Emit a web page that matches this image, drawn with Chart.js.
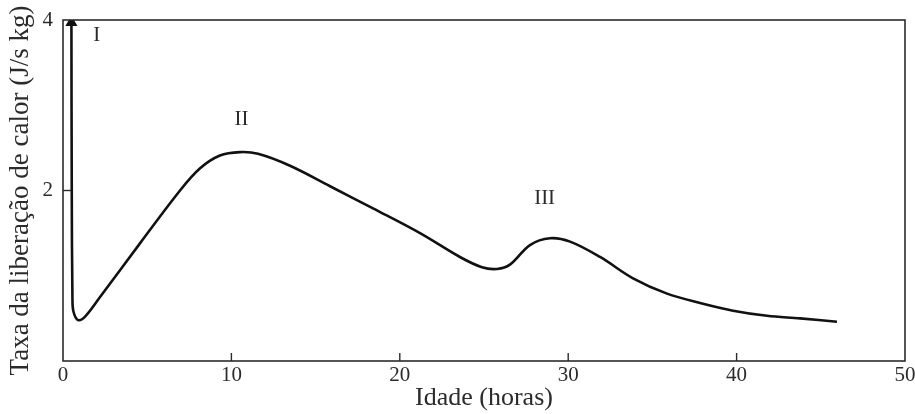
<!DOCTYPE html>
<html>
<head>
<meta charset="utf-8">
<script src="https://cdn.jsdelivr.net/npm/chart.js@4"></script>
<style>
  html, body { margin: 0; padding: 0; background: #fff; }
  #wrap { width: 915px; height: 414px; }
</style>
</head>
<body>
<div id="wrap"><canvas id="heatChart" width="915" height="414"></canvas></div>
<script>
// idade (horas) e taxa de liberação de calor (J/s kg)
const hours = [0.50, 0.52, 0.56, 0.62, 0.89, 1.31, 2.20, 4.57, 6.95, 8.14, 9.32, 10.51, 11.58, 13.48, 15.86, 18.41, 21.20, 23.57, 24.88, 25.77, 26.54, 27.73, 28.92, 30.11, 31.89, 33.85, 35.87, 37.83, 39.79, 41.81, 43.77, 45.96];
const heatRate = [3.97, 2.00, 0.75, 0.58, 0.48, 0.52, 0.75, 1.38, 2.00, 2.26, 2.41, 2.45, 2.43, 2.29, 2.05, 1.79, 1.50, 1.22, 1.10, 1.08, 1.13, 1.36, 1.44, 1.40, 1.22, 0.97, 0.79, 0.68, 0.59, 0.53, 0.50, 0.46];

const xTicks = [0, 10, 20, 30, 40, 50];
const yTicks = [2, 4];

// rótulos dos picos: texto, idade, taxa
const peakNames = ['I', 'II', 'III'];
const peakHours = [2.0, 10.6, 28.6];
const peakRates = [3.82, 2.83, 1.91];

const serif = "'Liberation Serif', 'DejaVu Serif', serif";
const ink = '#2b2b2b';

// moldura, marcas internas e rótulos I, II, III
const framePlugin = {
    id: 'frame',
    afterDraw(chart) {
        const ctx = chart.ctx;
        const area = chart.chartArea;
        const xs = chart.scales.x;
        const ys = chart.scales.y;
        ctx.save();
        ctx.strokeStyle = ink;
        ctx.lineWidth = 1.6;
        ctx.strokeRect(area.left, area.top, area.right - area.left, area.bottom - area.top);

        ctx.lineWidth = 1.4;
        xTicks.slice(1, -1).forEach(v => {
            const px = xs.getPixelForValue(v);
            ctx.beginPath();
            ctx.moveTo(px, area.bottom);
            ctx.lineTo(px, area.bottom - 8);
            ctx.stroke();
        });
        yTicks.slice(0, -1).forEach(v => {
            const py = ys.getPixelForValue(v);
            ctx.beginPath();
            ctx.moveTo(area.left, py);
            ctx.lineTo(area.left + 8, py);
            ctx.stroke();
        });

        ctx.fillStyle = ink;
        ctx.font = '21px ' + serif;
        ctx.textAlign = 'center';
        ctx.textBaseline = 'middle';
        peakNames.forEach((name, i) => {
            ctx.fillText(name, xs.getPixelForValue(peakHours[i]), ys.getPixelForValue(peakRates[i]));
        });
        ctx.restore();
    }
};

const pointSizes = heatRate.map((v, i) => i === 0 ? 7 : 0);

new Chart(document.getElementById('heatChart').getContext('2d'), {
    type: 'line',
    data: {
        datasets: [{
            data: hours.map((h, i) => ({ x: h, y: heatRate[i] })),
            borderColor: '#111',
            borderWidth: 2.6,
            tension: 0.35,
            fill: false,
            pointStyle: 'triangle',
            pointRadius: pointSizes,
            pointBackgroundColor: '#111',
            pointBorderColor: '#111',
            pointBorderWidth: 0
        }]
    },
    options: {
        responsive: false,
        animation: false,
        layout: { padding: { top: 20, right: 10, left: 0, bottom: 0 } },
        plugins: {
            legend: { display: false },
            tooltip: { enabled: false }
        },
        scales: {
            x: {
                type: 'linear',
                min: 0,
                max: 50,
                afterFit(scale) {
                    scale.height = 53;
                    scale.paddingLeft = 0;
                    scale.paddingRight = 0;
                },
                afterBuildTicks(scale) { scale.ticks = xTicks.map(v => ({ value: v })); },
                grid: { display: false, drawTicks: false },
                border: { display: false },
                ticks: {
                    color: ink,
                    padding: 2,
                    maxRotation: 0,
                    font: { family: serif, size: 21 }
                },
                title: {
                    display: true,
                    text: 'Idade (horas)',
                    color: ink,
                    padding: { top: 0, bottom: 0 },
                    font: { family: serif, size: 26 }
                }
            },
            y: {
                min: 0,
                max: 4,
                afterFit(scale) {
                    scale.width = 63;
                    scale.paddingTop = 0;
                    scale.paddingBottom = 0;
                },
                afterBuildTicks(scale) { scale.ticks = yTicks.map(v => ({ value: v })); },
                grid: { display: false, drawTicks: false },
                border: { display: false },
                ticks: {
                    color: ink,
                    padding: 10,
                    font: { family: serif, size: 21 }
                },
                title: {
                    display: true,
                    text: 'Taxa da liberação de calor (J/s kg)',
                    color: ink,
                    padding: { top: 5, bottom: 0 },
                    font: { family: serif, size: 27 }
                }
            }
        }
    },
    plugins: [framePlugin]
});
</script>
</body>
</html>
